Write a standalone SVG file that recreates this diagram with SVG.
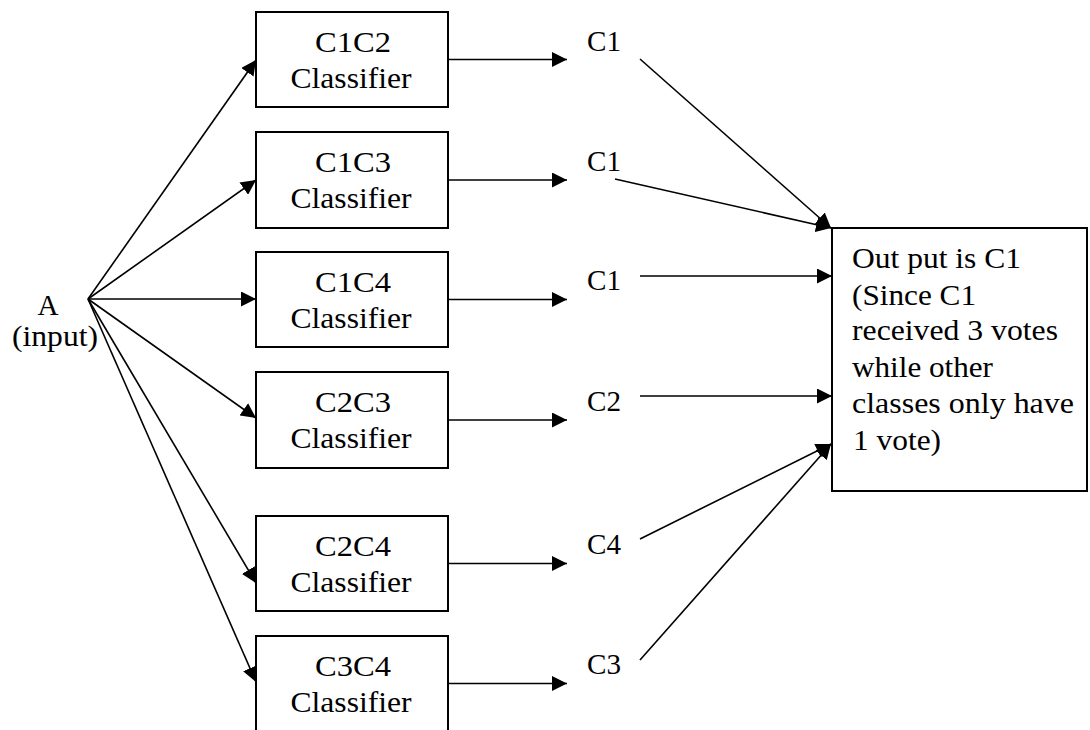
<svg xmlns="http://www.w3.org/2000/svg" width="1090" height="730" viewBox="0 0 1090 730">
<style>
  .box { fill: #ffffff; stroke: #000000; stroke-width: 2; }
  .ln { stroke: #000000; stroke-width: 1.6; fill: none; marker-end: url(#ah); }
</style>
<defs>
  <marker id="ah" markerUnits="userSpaceOnUse" markerWidth="15" markerHeight="15" refX="15" refY="7.5" orient="auto" viewBox="0 0 15 15">
    <path d="M0,0 L15,7.5 L0,15 Z" fill="#000000"/>
  </marker>
</defs>
<rect width="1090" height="730" fill="#ffffff"/>

<g font-family="Liberation Serif, Times New Roman, serif" font-size="30" fill="#000000">
<g id="input" text-anchor="middle">
  <text x="48" y="315" textLength="21" lengthAdjust="spacingAndGlyphs">A</text>
  <text x="55" y="346" textLength="86" lengthAdjust="spacingAndGlyphs">(input)</text>
</g>

<g text-anchor="middle">
<g id="c1c2">
  <rect class="box" x="256" y="12" width="192" height="95"/>
  <text x="353" y="52" textLength="76" lengthAdjust="spacingAndGlyphs">C1C2</text>
  <text x="351" y="88" textLength="121" lengthAdjust="spacingAndGlyphs">Classifier</text>
</g>
<g id="c1c3">
  <rect class="box" x="256" y="132" width="192" height="96"/>
  <text x="353" y="172" textLength="76" lengthAdjust="spacingAndGlyphs">C1C3</text>
  <text x="351" y="208" textLength="121" lengthAdjust="spacingAndGlyphs">Classifier</text>
</g>
<g id="c1c4">
  <rect class="box" x="256" y="252" width="192" height="95"/>
  <text x="353" y="292" textLength="76" lengthAdjust="spacingAndGlyphs">C1C4</text>
  <text x="351" y="328" textLength="121" lengthAdjust="spacingAndGlyphs">Classifier</text>
</g>
<g id="c2c3">
  <rect class="box" x="256" y="372" width="192" height="96"/>
  <text x="353" y="412" textLength="76" lengthAdjust="spacingAndGlyphs">C2C3</text>
  <text x="351" y="448" textLength="121" lengthAdjust="spacingAndGlyphs">Classifier</text>
</g>
<g id="c2c4">
  <rect class="box" x="256" y="516" width="192" height="95"/>
  <text x="353" y="556" textLength="76" lengthAdjust="spacingAndGlyphs">C2C4</text>
  <text x="351" y="592" textLength="121" lengthAdjust="spacingAndGlyphs">Classifier</text>
</g>
<g id="c3c4">
  <rect class="box" x="256" y="636" width="192" height="130"/>
  <text x="353" y="676" textLength="76" lengthAdjust="spacingAndGlyphs">C3C4</text>
  <text x="351" y="712" textLength="121" lengthAdjust="spacingAndGlyphs">Classifier</text>
</g>
</g>

<g id="votes">
  <text x="587" y="51" textLength="34" lengthAdjust="spacingAndGlyphs">C1</text>
  <text x="587" y="171" textLength="34" lengthAdjust="spacingAndGlyphs">C1</text>
  <text x="587" y="290" textLength="34" lengthAdjust="spacingAndGlyphs">C1</text>
  <text x="587" y="411" textLength="34" lengthAdjust="spacingAndGlyphs">C2</text>
  <text x="587" y="554" textLength="34" lengthAdjust="spacingAndGlyphs">C4</text>
  <text x="587" y="674" textLength="34" lengthAdjust="spacingAndGlyphs">C3</text>
</g>

<g id="output">
  <rect class="box" x="832" y="228" width="255" height="263"/>
  <text x="852" y="268" textLength="169" lengthAdjust="spacingAndGlyphs">Out put is C1</text>
  <text x="852" y="305" textLength="124" lengthAdjust="spacingAndGlyphs">(Since C1</text>
  <text x="852" y="340" textLength="206" lengthAdjust="spacingAndGlyphs">received 3 votes</text>
  <text x="852" y="377" textLength="141" lengthAdjust="spacingAndGlyphs">while other</text>
  <text x="852" y="413" textLength="222" lengthAdjust="spacingAndGlyphs">classes only have</text>
  <text x="853" y="450" textLength="88" lengthAdjust="spacingAndGlyphs">1 vote)</text>
</g>
</g>

<g id="connectors">
  <line class="ln" x1="88" y1="299" x2="256" y2="60"/>
  <line class="ln" x1="88" y1="299" x2="256" y2="180"/>
  <line class="ln" x1="88" y1="299" x2="256" y2="299"/>
  <line class="ln" x1="88" y1="299" x2="256" y2="418"/>
  <line class="ln" x1="88" y1="299" x2="256" y2="583"/>
  <line class="ln" x1="88" y1="299" x2="256" y2="682"/>

  <line class="ln" x1="448" y1="59.5" x2="567" y2="59.5"/>
  <line class="ln" x1="448" y1="180" x2="567" y2="180"/>
  <line class="ln" x1="448" y1="299.5" x2="567" y2="299.5"/>
  <line class="ln" x1="448" y1="420" x2="567" y2="420"/>
  <line class="ln" x1="448" y1="563.5" x2="567" y2="563.5"/>
  <line class="ln" x1="448" y1="683.5" x2="567" y2="683.5"/>

  <line class="ln" x1="640" y1="59" x2="831" y2="228"/>
  <line class="ln" x1="615" y1="179" x2="831" y2="228"/>
  <line class="ln" x1="640" y1="276" x2="832" y2="276"/>
  <line class="ln" x1="640" y1="396" x2="832" y2="396"/>
  <line class="ln" x1="640" y1="539" x2="831" y2="444"/>
  <line class="ln" x1="640" y1="660" x2="831" y2="444"/>
</g>
</svg>
